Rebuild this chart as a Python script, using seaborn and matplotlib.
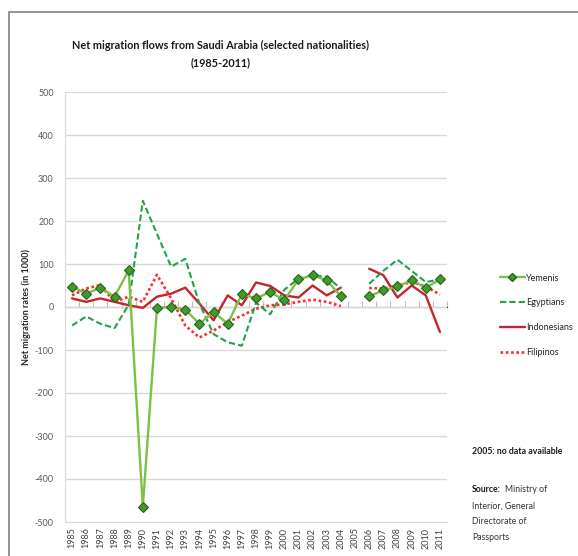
import matplotlib
matplotlib.use("Agg")
import matplotlib.pyplot as plt
import seaborn as sns
import numpy as np
import pandas as pd
from matplotlib.lines import Line2D
from matplotlib.patches import Rectangle

years = list(range(1985, 2012))
nan = np.nan

yemenis = [47, 31, 45, 24, 85, -465, -2, 0, -6, -39, -12, -39, 30, 20, 35, 16,
           64, 74, 62, 25, nan, 25, 39, 48, 62, 45, 64]
egyptians = [-43, -22, -39, -49, 5, 247, 170, 94, 112, 8, -63, -82, -90, 10, -17, 40,
             66, 74, 70, 43, nan, 54, 84, 110, 84, 58, 64]
indonesians = [20, 12, 20, 12, 4, -2, 24, 31, 45, 8, -31, 27, 4, 57, 49, 27,
               22, 50, 27, 45, nan, 89, 74, 22, 50, 27, -58]
filipinos = [27, 43, 51, 12, 24, 12, 75, 20, -43, -71, -55, -35, -20, -4, 4, 6,
             12, 17, 12, 2, nan, 44, 43, 50, 58, 48, 29]

series = {"Yemenis": yemenis, "Egyptians": egyptians,
          "Indonesians": indonesians, "Filipinos": filipinos}

rows = []
for name, vals in series.items():
    for yr, v in zip(years, vals):
        if not np.isnan(v):
            rows.append({"year": yr, "value": v, "series": name,
                         "segment": 0 if yr < 2005 else 1})
df = pd.DataFrame(rows)

sns.set_style("white")
plt.rcParams["font.family"] = ["Lato", "DejaVu Sans"]
plt.rcParams["axes.unicode_minus"] = False

fig = plt.figure(figsize=(5.78, 5.56), dpi=100)
ax = fig.add_axes([65 / 578, 34 / 556, 382 / 578, 430 / 556])

styles = {
    "Yemenis": dict(color="#7cc242", lw=1.7, ls="-", marker="D", ms=5.5,
                    mfc="#3f9b2c", mec="#2d5e22", mew=0.8),
    "Egyptians": dict(color="#22a04a", lw=1.5, ls=(0, (3, 1.5))),
    "Indonesians": dict(color="#c3262e", lw=1.7, ls="-"),
    "Filipinos": dict(color="#ff2a2a", lw=1.9, ls=(0, (1, 1))),
}
order = ["Filipinos", "Indonesians", "Egyptians", "Yemenis"]
for name in order:
    sub = df[df["series"] == name]
    st = styles[name]
    sns.lineplot(data=sub, x="year", y="value", units="segment", estimator=None,
                 ax=ax, color=st["color"], linewidth=st["lw"], linestyle=st["ls"],
                 marker=st.get("marker"), markersize=st.get("ms", 0),
                 markerfacecolor=st.get("mfc"), markeredgecolor=st.get("mec"),
                 markeredgewidth=st.get("mew", 0), legend=False, zorder=3)

ax.set_xlim(1984.5, 2011.5)
ax.set_ylim(-500, 500)
ax.set_yticks(range(-500, 501, 100))
ax.set_xticks(years)
ax.set_xticklabels([str(y) for y in years], rotation=90, fontsize=6.5,
                   color="#404040")
ax.tick_params(axis="y", labelsize=6.5, labelcolor="#595959", length=0, pad=8)
ax.tick_params(axis="x", length=0, pad=4)
ax.grid(axis="y", color="#d9d9d9", lw=1)
for s in ["top", "right"]:
    ax.spines[s].set_visible(False)
ax.spines["left"].set_color("#d9d9d9")
ax.spines["bottom"].set_color("#d9d9d9")
ax.set_xlabel("")
ax.set_ylabel("Net migration rates (in 1000)", fontsize=6.5, fontweight="bold",
              color="#262626", labelpad=3)

# category tick marks on the zero line
sec = ax.secondary_xaxis(0.5)
sec.set_xticks(np.arange(1984.5, 2012, 1))
sec.set_xticklabels([])
sec.tick_params(length=4, width=0.8, color="#bfbfbf", direction="out")
sec.spines["bottom"].set_color("#bfbfbf")

fig.text(221 / 578, 1 - 45 / 556,
         "Net migration flows from Saudi Arabia (selected nationalities)",
         ha="center", va="center", fontsize=7.8, fontweight="bold", color="#1a1a1a")
fig.text(221 / 578, 1 - 63 / 556, "(1985-2011)", ha="center", va="center",
         fontsize=7.8, fontweight="bold", color="#1a1a1a")

handles = []
for name in ["Yemenis", "Egyptians", "Indonesians", "Filipinos"]:
    st = styles[name]
    handles.append(Line2D([], [], color=st["color"], lw=st["lw"], ls=st["ls"],
                          marker=st.get("marker"), markersize=4,
                          markerfacecolor=st.get("mfc"),
                          markeredgecolor=st.get("mec"), label=name))
fig.legend(handles=handles, loc="upper left",
           bbox_to_anchor=(496 / 578, 1 - 270 / 556), frameon=False,
           fontsize=6.5, handlelength=2.8, handletextpad=0.1, labelspacing=1.75,
           borderaxespad=0, markerscale=1)

fig.text(472 / 578, 1 - 452 / 556, "2005: no data available", fontsize=6.3,
         fontweight="bold", color="#1a1a1a", va="center")
fig.text(472 / 578, 1 - 490 / 556, "Source:", fontsize=6.3, fontweight="bold",
         color="#1a1a1a", va="center")
fig.text(505 / 578, 1 - 490 / 556, "Ministry of", fontsize=6.3, color="#333333",
         va="center")
fig.text(472 / 578, 1 - 506 / 556, "Interior, General", fontsize=6.3,
         color="#333333", va="center")
fig.text(472 / 578, 1 - 522 / 556, "Directorate of", fontsize=6.3,
         color="#333333", va="center")
fig.text(472 / 578, 1 - 538 / 556, "Passports", fontsize=6.3, color="#333333",
         va="center")

fig.patches.append(Rectangle((9 / 578, -0.1), 1.2, 1 - 12 / 556 + 0.1,
                             transform=fig.transFigure, fill=False,
                             edgecolor="#7f7f7f", lw=1.2))

fig.savefig("out.png", dpi=100)
